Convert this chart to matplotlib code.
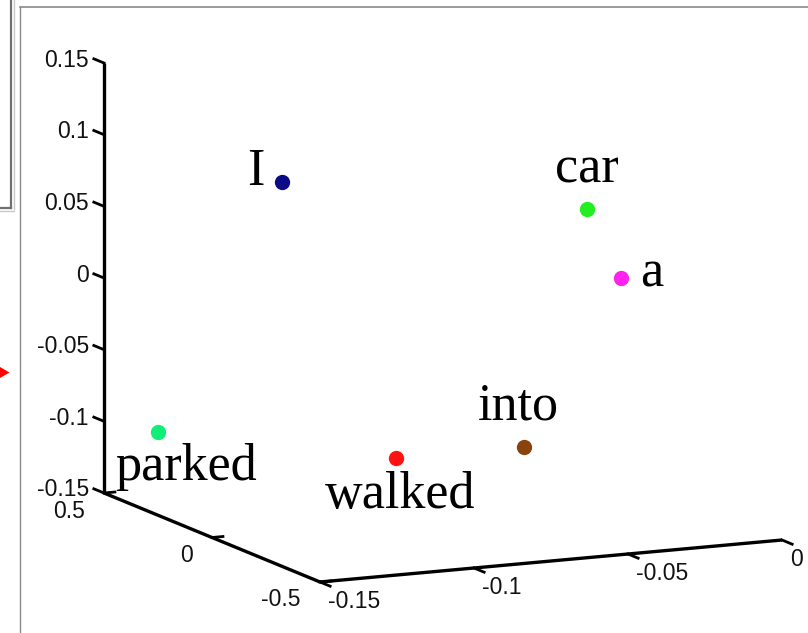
import numpy as np
from matplotlib import pyplot as plt
from matplotlib.patches import Polygon

# words and their 3-d coordinates (x, y, z)
words = ['I', 'car', 'a', 'parked', 'walked', 'into']
xs = [-0.1133, -0.0354, -0.0312, -0.1464, -0.0973, -0.0697]
ys = [0.2, -0.1, -0.2, 0.3, -0.1, -0.3]
zs = [0.0782, 0.0630, 0.0201, -0.0955, -0.0988, -0.0837]
colors = ['#0b0b86', '#22ee22', '#ff22ee', '#11ee77', '#ff1111', '#88440f']

x_ticks = [-0.15, -0.1, -0.05, 0]
y_ticks = [-0.5, 0, 0.5]
z_ticks = [-0.15, -0.1, -0.05, 0, 0.05, 0.1, 0.15]
x_labels = ['-0.15', '-0.1', '-0.05', '0']
y_labels = ['-0.5', '0', '0.5']
z_labels = ['-0.15', '-0.1', '-0.05', '0', '0.05', '0.1', '0.15']

# orthographic view (screen pixels)
O = np.array([320.0, 582.0])
EX = np.array([3080.0, -280.0])
EY = np.array([-216.0, -89.0])
EZ = np.array([0.0, -1433.3])


def proj(x, y, z):
    return O + (x + 0.15) * EX + (y + 0.5) * EY + (z + 0.15) * EZ


W, H = 808, 633
fig = plt.figure(figsize=(W / 100, H / 100), dpi=100)
ax = fig.add_axes([0, 0, 1, 1])
ax.set_xlim(0, W)
ax.set_ylim(H, 0)
ax.axis('off')

# screenshot frame bits
ax.plot([19.5, 19.5], [7, H], color='#8a8a8a', lw=1)
ax.plot([19.5, W], [7, 7], color='#8a8a8a', lw=1.2)
ax.plot([11, 11], [0, 208], color='#707070', lw=1.6)
ax.plot([13.5, 13.5], [0, 209], color='#c8c8c8', lw=1)
ax.plot([0, 11], [208, 208], color='#707070', lw=1.6)
ax.plot([0, 13.5], [210.5, 210.5], color='#c8c8c8', lw=1)
ax.add_patch(Polygon([[0, 367], [0, 378], [9.5, 372.5]], color='red', lw=0))

ax_lw = 2.4
# axis lines
p0, p1 = proj(-0.15, 0.5, -0.15), proj(-0.15, 0.5, 0.15)
ax.plot([p0[0], p1[0]], [p0[1], p1[1]], color='black', lw=ax_lw, solid_capstyle='butt')
p0, p1 = proj(-0.15, -0.5, -0.15), proj(-0.15, 0.5, -0.15)
ax.plot([p0[0], p1[0]], [p0[1], p1[1]], color='black', lw=ax_lw, solid_capstyle='butt')
p0, p1 = proj(-0.15, -0.5, -0.15), proj(0, -0.5, -0.15)
ax.plot([p0[0], p1[0]], [p0[1], p1[1]], color='black', lw=ax_lw, solid_capstyle='butt')

ey_u = EY / np.linalg.norm(EY)
ex_u = EX / np.linalg.norm(EX)
tick_len = 11
tick_fs = 16.5

# z ticks
for z, lab in zip(z_ticks, z_labels):
    p = proj(-0.15, 0.5, z)
    q = p + tick_len * ey_u
    ax.plot([p[0], q[0]], [p[1], q[1]], color='black', lw=2)
    ax.text(89, p[1] - 3, lab, ha='right', va='center', fontsize=tick_fs,
            family='Liberation Sans', color='#111111')

# y ticks
for y, lab in zip(y_ticks, y_labels):
    p = proj(-0.15, y, -0.15)
    q = p + tick_len * ex_u
    ax.plot([p[0], q[0]], [p[1], q[1]], color='black', lw=2)
    ax.text(p[0] - 19, p[1] + 18, lab, ha='right', va='center', fontsize=tick_fs,
            family='Liberation Sans', color='#111111')

# x ticks
for x, lab in zip(x_ticks, x_labels):
    p = proj(x, -0.5, -0.15)
    q = p - tick_len * ey_u
    ax.plot([p[0], q[0]], [p[1], q[1]], color='black', lw=2)
    ax.text(p[0] + 8, p[1] + 20, lab, ha='left', va='center', fontsize=tick_fs,
            family='Liberation Sans', color='#111111')

# word points and labels
offsets = {'I': (-17, 3, 'right'), 'car': (0, -27, 'center'), 'a': (19, 8, 'left'),
           'parked': (-43, 48, 'left'), 'walked': (-71, 50, 'left'),
           'into': (-46, -27, 'left')}
for w, x, y, z, c in zip(words, xs, ys, zs, colors):
    p = proj(x, y, z)
    ax.plot(p[0], p[1], 'o', color=c, ms=10, mec=c)
    dx, dy, ha = offsets[w]
    ax.text(p[0] + dx, p[1] + dy, w, ha=ha, va='baseline', fontsize=37.5,
            family='Liberation Serif')

plt.savefig('out.png', dpi=100)
